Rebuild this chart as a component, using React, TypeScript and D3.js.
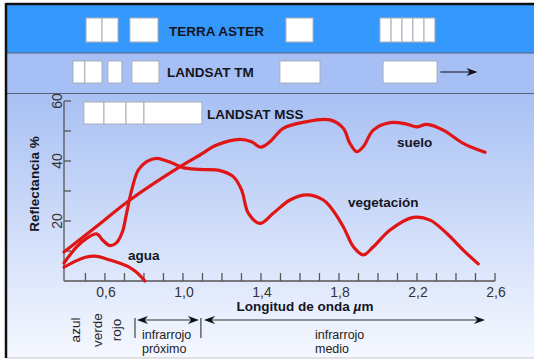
import * as d3 from "d3";

const W = 534;
const H = 360;
const FONT = "'Liberation Sans', Arial, sans-serif";

// reflectance curves (wavelength µm, reflectance %)
const aguaW = [0.39, 0.455, 0.5, 0.55, 0.626, 0.677, 0.72, 0.754, 0.78, 0.805];
const aguaR = [4.6, 6.8, 7.9, 8.3, 7.0, 5.9, 4.8, 3.3, 1.8, 0];

const vegW = [0.39, 0.455, 0.506, 0.557, 0.59, 0.626, 0.66, 0.69, 0.711, 0.737, 0.771, 0.814, 0.865, 0.95, 1.0, 1.087, 1.19, 1.258, 1.301, 1.335, 1.395, 1.463, 1.549, 1.634, 1.72, 1.754, 1.822, 1.874, 1.925, 1.976, 2.062, 2.181, 2.267, 2.352, 2.437, 2.514];
const vegR = [6, 11.4, 14.2, 15.7, 13.5, 11.8, 12.8, 16.5, 22.6, 30.3, 37, 39.8, 40.9, 39.2, 37.8, 37.2, 36.8, 34.8, 30.3, 22.6, 19.2, 22.6, 27, 28.7, 27, 24.8, 18.1, 11.4, 8.7, 11.4, 17, 21.2, 20.3, 15.9, 10.3, 5.7];

const sueloW = [0.39, 0.55, 0.728, 0.985, 1.087, 1.173, 1.292, 1.352, 1.398, 1.446, 1.514, 1.617, 1.754, 1.822, 1.856, 1.891, 1.925, 1.976, 2.062, 2.147, 2.198, 2.25, 2.335, 2.437, 2.549];
const sueloR = [9.7, 17.8, 27, 38.1, 42, 45.3, 47.2, 46.4, 44.6, 46.4, 50.9, 52.9, 53.7, 50.9, 45.9, 43.1, 44.8, 50.3, 52.8, 52.3, 51.4, 52.2, 50.3, 45.9, 42.9];

// sensor bands (µm)
const asterBands = [[0.503, 0.585], [0.585, 0.667], [0.728, 0.872], [1.528, 1.667], [2.01, 2.067], [2.067, 2.123], [2.123, 2.179], [2.179, 2.236], [2.236, 2.292]];
const tmBands = [[0.436, 0.497], [0.497, 0.585], [0.615, 0.687], [0.738, 0.877], [1.497, 1.703], [2.026, 2.303]];
const mssBands = [[0.492, 0.595], [0.595, 0.708], [0.708, 0.8], [0.8, 1.097]];

const xTicks = d3.range(5, 27).map((d) => d / 10);
const xLabels = [0.6, 1.0, 1.4, 1.8, 2.2, 2.6];
const yTicks = [10, 20, 30, 40, 50, 60];
const yLabels = [20, 40, 60];

const colourNames = [
  { name: "azul", w: 0.472 },
  { name: "verde", w: 0.585 },
  { name: "rojo", w: 0.682 },
];
const nearIR = [0.754, 1.092];
const midIR = [1.092, 2.549];

const x = d3.scaleLinear().domain([0.39, 2.6]).range([64, 495]);
const y = d3.scaleLinear().domain([0, 60]).range([281, 101]);

const line = d3
  .line<[number, number]>()
  .x((d) => x(d[0]))
  .y((d) => y(d[1]))
  .curve(d3.curveCatmullRom.alpha(0.5));

const zip = (ws: number[], rs: number[]) => ws.map((w, i) => [w, rs[i]] as [number, number]);

const fmt = (v: number) => d3.format(".1f")(v).replace(".", ",");

// dart style arrow head, tip at (tx, ty), pointing dir (1 right, -1 left)
const head = (tx: number, ty: number, dir: number) => {
  const l = 11 * dir;
  return `M${tx},${ty} L${tx - l},${ty - 4} L${tx - l * 0.7},${ty} L${tx - l},${ty + 4} Z`;
};

const Bands = ({ bands, y0, h }: { bands: number[][]; y0: number; h: number }) => (
  <g>
    {bands.map((b, i) => (
      <rect key={i} x={x(b[0])} y={y0} width={x(b[1]) - x(b[0])} height={h} fill="white" stroke="#a9adb8" strokeWidth={1} />
    ))}
  </g>
);

export default function App() {
  const labelStyle = { fontFamily: FONT, fontWeight: 700, fontSize: 13.5, fill: "#15151f" };
  return (
    <div style={{ position: "fixed", left: 0, top: 0 }}>
      <svg width={W} height={H} style={{ display: "block", background: "white" }}>
        <defs>
          <linearGradient id="bg" x1="0" y1="0" x2="0" y2="1">
            <stop offset="0" stopColor="#a7c0f3" />
            <stop offset="0.5" stopColor="#cfdcf9" />
            <stop offset="1" stopColor="#f5f8ff" />
          </linearGradient>
        </defs>

        {/* bands and background */}
        <rect x={6} y={5} width={W - 6} height={48} fill="#3598fc" />
        <rect x={6} y={53} width={W - 6} height={40} fill="#a6bff5" />
        <rect x={6} y={93} width={W - 6} height={265} fill="url(#bg)" />
        <line x1={6} x2={W} y1={53} y2={53} stroke="#59627a" strokeWidth={1} />
        <line x1={6} x2={W} y1={93.5} y2={93.5} stroke="#59627a" strokeWidth={1.2} />
        <line x1={6} x2={W} y1={358} y2={358} stroke="#c8c8cc" strokeWidth={1} />
        <line x1={6} x2={W} y1={4} y2={4} stroke="#111" strokeWidth={2.5} />
        <line x1={6} x2={6} y1={3} y2={358} stroke="#111" strokeWidth={2.5} />

        <Bands bands={asterBands} y0={18} h={24} />
        <Bands bands={tmBands} y0={61} h={22} />
        <Bands bands={mssBands} y0={102} h={22} />

        <text x={169} y={36} {...labelStyle}>TERRA ASTER</text>
        <text x={167} y={77} {...labelStyle}>LANDSAT TM</text>
        <text x={207} y={119} {...labelStyle}>LANDSAT MSS</text>
        <line x1={x(2.32)} x2={x(2.5)} y1={72} y2={72} stroke="#111" strokeWidth={1.2} />
        <path d={head(x(2.51), 72, 1)} fill="#111" />

        {/* axes */}
        <g stroke="#555" strokeWidth={1.3} fill="none">
          <line x1={x(0.39)} x2={x(0.39)} y1={y(60)} y2={y(0)} />
          <line x1={x(0.39)} x2={x(2.6)} y1={y(0)} y2={y(0)} />
          {xTicks.map((t) => (
            <line key={t} x1={x(t)} x2={x(t)} y1={y(0)} y2={y(0) - 8} />
          ))}
          {yTicks.map((t) => (
            <line key={t} x1={x(0.39)} x2={x(0.39) + 7} y1={y(t)} y2={y(t)} />
          ))}
        </g>
        {xLabels.map((t) => (
          <text key={t} x={x(t) + 1} y={297} textAnchor="middle" fontFamily={FONT} fontSize={14} fill="#333">
            {fmt(t)}
          </text>
        ))}
        {yLabels.map((t) => (
          <text key={t} transform={`translate(62,${y(t)}) rotate(-90)`} textAnchor="middle" fontFamily={FONT} fontSize={14} fill="#333">
            {t}
          </text>
        ))}
        <text transform="translate(39,184) rotate(-90)" textAnchor="middle" {...labelStyle}>
          Reflectancia %
        </text>
        <text x={305} y={311} textAnchor="middle" {...labelStyle}>
          Longitud de onda <tspan fontStyle="italic">µ</tspan>m
        </text>

        {/* curves */}
        <g fill="none" stroke="#e01515" strokeWidth={3.2} strokeLinecap="round" strokeLinejoin="round">
          <path d={line(zip(sueloW, sueloR)) || ""} />
          <path d={line(zip(vegW, vegR)) || ""} />
          <path d={line(zip(aguaW, aguaR)) || ""} />
        </g>
        <text x={x(0.718)} y={y(7)} {...labelStyle}>agua</text>
        <text x={x(2.098)} y={y(44.7)} {...labelStyle}>suelo</text>
        <text x={x(1.846)} y={y(24.7)} {...labelStyle}>vegetación</text>

        {/* spectral regions */}
        {colourNames.map((c) => (
          <text key={c.name} transform={`translate(${x(c.w)},330) rotate(-90)`} textAnchor="middle" fontFamily={FONT} fontSize={13.5} fill="#222">
            {c.name}
          </text>
        ))}
        <g stroke="#333" strokeWidth={1.1}>
          <line x1={x(nearIR[0])} x2={x(nearIR[0])} y1={318} y2={338} />
          <line x1={x(nearIR[1])} x2={x(nearIR[1])} y1={318} y2={338} />
          <line x1={x(nearIR[0]) + 4} x2={x(nearIR[1]) - 4} y1={320} y2={320} />
          <line x1={x(midIR[0]) + 6} x2={x(midIR[1]) - 4} y1={320} y2={320} />
        </g>
        <path d={head(x(nearIR[0]) + 2, 320, -1)} fill="#111" />
        <path d={head(x(nearIR[1]) - 2, 320, 1)} fill="#111" />
        <path d={head(x(midIR[0]) + 3, 320, -1)} fill="#111" />
        <path d={head(x(midIR[1]), 320, 1)} fill="#111" />
        <text x={142} y={339} fontFamily={FONT} fontSize={12.5} fill="#222">infrarrojo</text>
        <text x={142} y={353} fontFamily={FONT} fontSize={12.5} fill="#222">próximo</text>
        <text x={315} y={339} fontFamily={FONT} fontSize={12.5} fill="#222">infrarrojo</text>
        <text x={315} y={353} fontFamily={FONT} fontSize={12.5} fill="#222">medio</text>
      </svg>
    </div>
  );
}
